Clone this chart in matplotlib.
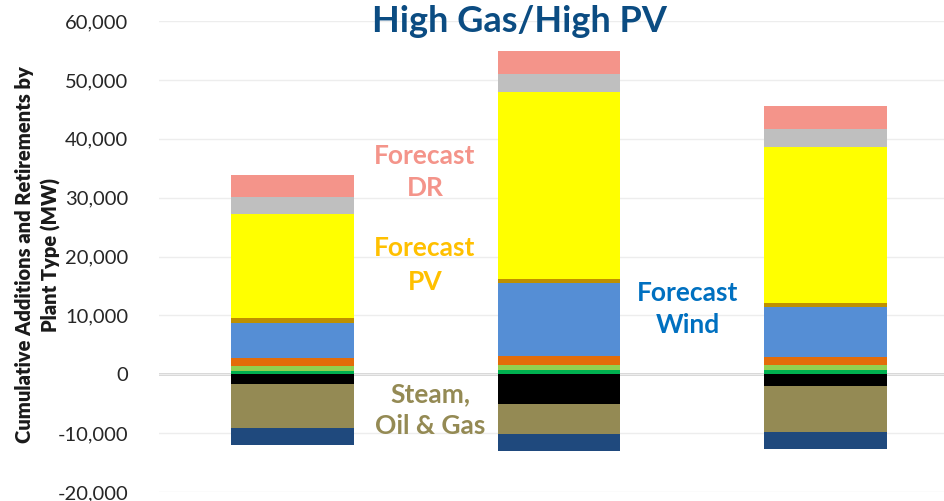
import numpy as np
import matplotlib.pyplot as plt
from matplotlib.ticker import FuncFormatter

plt.rcParams["font.family"] = ["Lato", "DejaVu Sans"]

scenarios = ["Bar 1", "Bar 2", "Bar 3"]

# positive (additions), stacked from the axis upward
additions = {
    "Other":          ([630, 680, 680],          "#00B050"),
    "Biomass":        ([730, 910, 850],          "#92D050"),
    "Geothermal":     ([1410, 1470, 1410],       "#E36C09"),
    "Forecast Wind":  ([6010, 12400, 8500],      "#558ED5"),
    "Solar Thermal":  ([740, 680, 740],          "#BF9000"),
    "Forecast PV":    ([17680, 31830, 26450],    "#FFFF00"),
    "Storage":        ([2940, 3010, 2950],       "#BFBFBF"),
    "Forecast DR":    ([3740, 3850, 3910],       "#F4948A"),
}

# negative (retirements), stacked from the axis downward
retirements = {
    "Nuclear":              ([-1590, -5100, -2040], "#000000"),
    "Steam, Oil & Gas":     ([-7470, -4990, -7760], "#948A54"),
    "Coal":                 ([-2890, -2940, -2940], "#1F497D"),
}

W, H = 944, 501
fig = plt.figure(figsize=(W / 100, H / 100), dpi=100)
ax = fig.add_axes([159 / W, 9 / H, (W - 159) / W, 471 / H])

x = np.arange(len(scenarios))
w = 0.46

bottom = np.zeros(len(x))
for name, (vals, col) in additions.items():
    vals = np.array(vals, dtype=float)
    ax.bar(x, vals, w, bottom=bottom, color=col, edgecolor="none", zorder=3)
    bottom += vals

bottom = np.zeros(len(x))
for name, (vals, col) in retirements.items():
    vals = np.array(vals, dtype=float)
    ax.bar(x, vals, w, bottom=bottom, color=col, edgecolor="none", zorder=3)
    bottom += vals

ax.set_ylim(-20000, 60000)
ax.set_xlim(-0.5, 2.444)
ax.set_yticks(np.arange(-20000, 60001, 10000))
ax.yaxis.set_major_formatter(FuncFormatter(lambda v, p: f"{int(v):,}"))
ax.set_xticks([])
ax.tick_params(axis="y", length=0, pad=22, labelsize=14.5, labelcolor="#262626")
for lbl in ax.get_yticklabels():
    lbl.set_verticalalignment("center_baseline")
ax.grid(axis="y", color="#EDEDED", lw=1, zorder=0)
ax.axhline(0, color="#D0D0D0", lw=2, zorder=1)
for s in ax.spines.values():
    s.set_visible(False)

fig.text(38 / W, 1 - 255 / H, "Cumulative Additions and Retirements by\nPlant Type (MW)",
         rotation=90, ha="center", va="center", fontsize=14.5, fontweight="heavy",
         color="#1a1a1a", linespacing=1.4)

fig.text(520 / W, 1 - 22 / H, "High Gas/High PV", ha="center", va="center",
         fontsize=26, fontweight="bold", color="#0B4C82")


def callout(px, py, s, col, ls):
    # px, py in pixels from the top-left corner
    fig.text(px / W, 1 - py / H, s, fontsize=19, fontweight="bold", color=col,
             ha="center", va="center", linespacing=ls)


callout(425, 172, "Forecast\nDR", "#F4948A", 1.4)
callout(425, 265, "Forecast\nPV", "#FFC000", 1.55)
callout(688, 309, "Forecast\nWind", "#0070C0", 1.4)
callout(430, 410, "Steam,\nOil & Gas", "#948A54", 1.4)

fig.savefig("out.png", dpi=100)
